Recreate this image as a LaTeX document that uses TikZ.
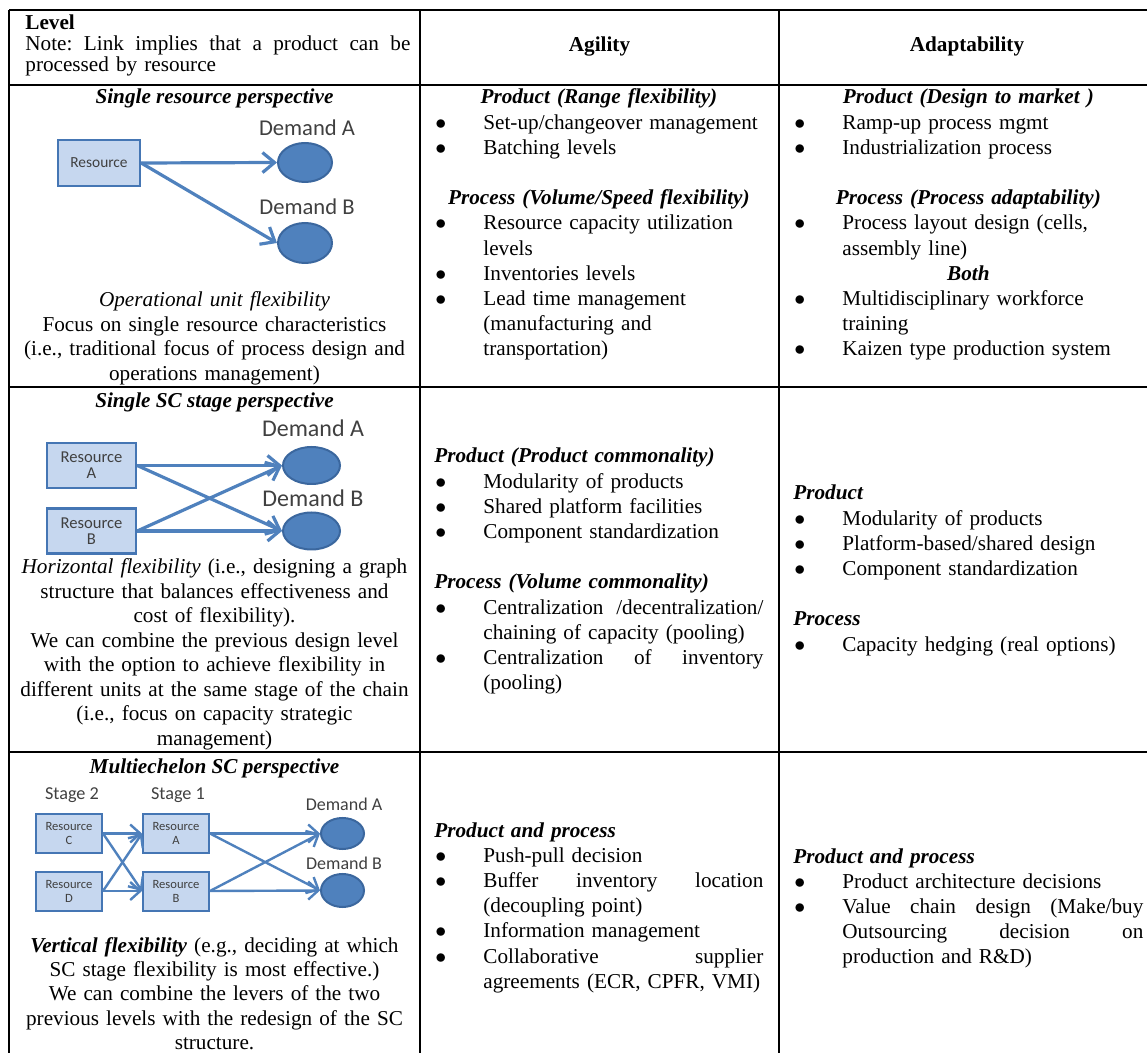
\documentclass[tikz,border=0pt]{standalone}
\usepackage{fontspec}
\setmainfont{Liberation Serif}
\newfontfamily\diagfont{Carlito}
\usetikzlibrary{arrows.meta, shapes.geometric}

\definecolor{resfill}{HTML}{C6D7EF}
\definecolor{resline}{HTML}{4576B4}
\definecolor{demfill}{HTML}{4F81BD}
\definecolor{demline}{HTML}{3B679E}
\definecolor{linkblue}{HTML}{4F81BD}
\definecolor{labgrey}{HTML}{404040}

\hyphenpenalty=10000
\newlength{\bulind}
\setlength{\bulind}{24.5pt}
\newcommand{\nl}{\hfil\break}
\newcommand{\spreadline}[2]{\makebox[#1]{#2}}
\newcommand{\bitem}[1]{\noindent\hangindent=\bulind\hangafter=1\makebox[\bulind][l]{\hspace{0.5pt}$\bullet$}#1\par}
\newcommand{\ctitle}[1]{{\centering\bfseries\itshape #1\par}}
\newcommand{\ltitle}[1]{\noindent{\bfseries\itshape #1}\par}
\newcommand{\gapline}{\vspace{\baselineskip}}

\tikzset{
  grid line/.style={line width=1.2pt},
  levelcell/.style={anchor=base, inner sep=0pt, text width=200pt, align=center, font=\fontsize{10.6}{12.25}\selectfont},
  listcell/.style={anchor=base west, inner sep=0pt, text width=#1, align=left, font=\fontsize{10.6}{12.6}\selectfont},
  head/.style={anchor=base, inner sep=0pt, font=\fontsize{10.6}{12}\selectfont\bfseries},
  resbox/.style={draw=resline, fill=resfill, line width=1.2pt, inner sep=0pt, align=center, text=labgrey},
  demand/.style={ellipse, draw=demline, fill=demfill, line width=1pt, inner sep=0pt},
  demlabel/.style={anchor=base, inner sep=0pt, text=labgrey, font=\diagfont\fontsize{12}{12}\selectfont},
  link/.style={draw=linkblue, line width=1.6pt, -{Straight Barb[length=6pt,width=10pt]}},
  link small/.style={draw=linkblue, line width=1.2pt, -{Straight Barb[length=5pt,width=9pt]}},
}

\begin{document}
\begin{tikzpicture}[x=0.5pt, y=-0.5pt]
\useasboundingbox (0,0) rectangle (1147,1053);

% table rules
\draw[grid line] (9,10) -- (1150,10);
\draw[grid line] (9,85) -- (1150,85);
\draw[grid line] (9,387) -- (1150,387);
\draw[grid line] (9,752) -- (1150,752);
\draw[grid line] (9,10) -- (9,1065);
\draw[grid line] (420,10) -- (420,1065);
\draw[grid line] (779,10) -- (779,1065);

% header row
\node[anchor=base west, inner sep=0pt, text width=192.5pt, align=left, font=\fontsize{10.6}{10.5}\selectfont] (hdlevel) at (25,30)
  {\textbf{Level}\nl\spreadline{192.5pt}{Note:\hfill Link\hfill implies\hfill that\hfill a\hfill product\hfill can\hfill be}\nl processed by resource};
\node[head] (hdagil) at (599.5,52) {Agility};
\node[head] (hdadapt) at (967,52) {Adaptability};

% row 1: single resource
\node[head, font=\fontsize{10.6}{12}\selectfont\bfseries\itshape] (ttl1) at (214.5,104) {Single resource perspective};
\node[resbox, minimum width=41pt, minimum height=23pt, font=\diagfont\fontsize{7.7}{8}\selectfont] (res1) at (99,163) {Resource};
\node[demand, minimum width=27pt, minimum height=19.5pt] (dA1) at (305,162.5) {};
\node[demand, minimum width=27pt, minimum height=20pt] (dB1) at (305,243) {};
\node[demlabel, font=\diagfont\fontsize{11.3}{12}\selectfont] (lA1) at (307,136) {Demand A};
\node[demlabel, font=\diagfont\fontsize{11.3}{12}\selectfont] (lB1) at (307,215) {Demand B};
\draw[link] (res1.east) -- (dA1.west);
\draw[link] (res1.east) -- (dB1.west);
\node[levelcell] (txt1) at (214.5,307)
  {\textit{Operational unit flexibility}\\Focus on single resource characteristics\\(i.e., traditional focus of process design and\\operations management)};

\node[listcell=164.5pt] (c12) at (434,104) {%
  \ctitle{Product (Range flexibility)}
  \bitem{Set-up/changeover management}
  \bitem{Batching levels}
  \gapline
  \ctitle{Process (Volume/Speed flexibility)}
  \bitem{Resource capacity utilization\nl levels}
  \bitem{Inventories levels}
  \bitem{Lead time management\nl (manufacturing and\nl transportation)}};

\node[listcell=175pt] (c13) at (793,104) {%
  \ctitle{Product (Design to market )}
  \bitem{Ramp-up process mgmt}
  \bitem{Industrialization process}
  \gapline
  \ctitle{Process (Process adaptability)}
  \bitem{Process layout design (cells,\nl assembly line)}
  \ctitle{Both}
  \bitem{Multidisciplinary workforce\nl training}
  \bitem{Kaizen type production system}};

% row 2: single SC stage
\node[head, font=\fontsize{10.6}{12}\selectfont\bfseries\itshape] (ttl2) at (214.5,408) {Single SC stage perspective};
\node[resbox, minimum width=44.5pt, minimum height=22.5pt, font=\diagfont\fontsize{8.3}{8}\selectfont] (resA2) at (91.5,465.5) {Resource\\A};
\node[resbox, minimum width=44.5pt, minimum height=22.5pt, font=\diagfont\fontsize{8.3}{8}\selectfont] (resB2) at (91.5,531) {Resource\\B};
\node[demand, minimum width=28.5pt, minimum height=18.5pt] (dA2) at (311.5,465.5) {};
\node[demand, minimum width=28.5pt, minimum height=18.5pt] (dB2) at (311.5,531) {};
\node[demlabel] (lA2) at (313,437) {Demand A};
\node[demlabel] (lB2) at (313,507) {Demand B};
\draw[link] (resA2.east) -- (dA2.west);
\draw[link] (resA2.east) -- (dB2.west);
\draw[link] (resB2.east) -- (dA2.west);
\draw[link] (resB2.east) -- (dB2.west);
\node[levelcell] (txt2) at (214.5,574)
  {\textit{Horizontal flexibility} (i.e., designing a graph\\structure that balances effectiveness and\\cost of flexibility).\\We can combine the previous design level\\with the option to achieve flexibility in\\different units at the same stage of the chain\\(i.e., focus on capacity strategic\\management)};

\node[listcell=164.5pt] (c22) at (434,463) {%
  \ltitle{Product (Product commonality)}
  \bitem{Modularity of products}
  \bitem{Shared platform facilities}
  \bitem{Component standardization}
  \gapline
  \ltitle{Process (Volume commonality)}
  \bitem{\spreadline{140pt}{Centralization\hfill /decentralization/}\nl chaining of capacity (pooling)}
  \bitem{\spreadline{140pt}{Centralization\hfill of\hfill inventory}\nl (pooling)}};

\node[listcell=175pt] (c23) at (793,500) {%
  \ltitle{Product}
  \bitem{Modularity of products}
  \bitem{Platform-based/shared design}
  \bitem{Component standardization}
  \gapline
  \ltitle{Process}
  \bitem{Capacity hedging (real options)}};

% row 3: multiechelon
\node[head, font=\fontsize{10.6}{12}\selectfont\bfseries\itshape] (ttl3) at (214.5,773) {Multiechelon SC perspective};
\node[demlabel, font=\diagfont\fontsize{9.1}{9}\selectfont] (stg2) at (72,799) {Stage 2};
\node[demlabel, font=\diagfont\fontsize{9.1}{9}\selectfont] (stg1) at (178,799) {Stage 1};
\node[resbox, line width=1pt, minimum width=33pt, minimum height=19.5pt, font=\diagfont\fontsize{6.3}{7}\selectfont] (resC3) at (69,833.5) {Resource\\C};
\node[resbox, line width=1pt, minimum width=33pt, minimum height=19.5pt, font=\diagfont\fontsize{6.3}{7}\selectfont] (resD3) at (69,891) {Resource\\D};
\node[resbox, line width=1pt, minimum width=33pt, minimum height=19.5pt, font=\diagfont\fontsize{6.3}{7}\selectfont] (resA3) at (176,833.5) {Resource\\A};
\node[resbox, line width=1pt, minimum width=33pt, minimum height=19.5pt, font=\diagfont\fontsize{6.3}{7}\selectfont] (resB3) at (176,891) {Resource\\B};
\node[demand, minimum width=21.5pt, minimum height=15.5pt] (dA3) at (342.5,833.5) {};
\node[demand, minimum width=21.5pt, minimum height=16.5pt] (dB3) at (342.5,890.5) {};
\node[demlabel, font=\diagfont\fontsize{9}{9}\selectfont] (lA3) at (344,810) {Demand A};
\node[demlabel, font=\diagfont\fontsize{9}{9}\selectfont] (lB3) at (344,869) {Demand B};
\draw[link small] (resC3.east) -- (resA3.west);
\draw[link small] (resC3.east) -- (resB3.west);
\draw[link small] (resD3.east) -- (resA3.west);
\draw[link small] (resD3.east) -- (resB3.west);
\draw[link small] (resA3.east) -- (dA3.west);
\draw[link small] (resA3.east) -- (dB3.west);
\draw[link small] (resB3.east) -- (dA3.west);
\draw[link small] (resB3.east) -- (dB3.west);
\node[levelcell, font=\fontsize{10.6}{12.2}\selectfont] (txt3) at (214.5,952)
  {\textbf{\textit{Vertical flexibility}} (e.g., deciding at which\\SC stage flexibility is most effective.)\\We can combine the levers of the two\\previous levels with the redesign of the SC\\structure.};

\node[listcell=164.5pt] (c32) at (434,837) {%
  \ltitle{Product and process}
  \bitem{Push-pull decision}
  \bitem{\spreadline{140pt}{Buffer\hfill inventory\hfill location}\nl (decoupling point)}
  \bitem{Information management}
  \bitem{\spreadline{140pt}{Collaborative\hfill supplier}\nl agreements (ECR, CPFR, VMI)}};

\node[listcell=175pt] (c33) at (793,863) {%
  \ltitle{Product and process}
  \bitem{Product architecture decisions}
  \bitem{\spreadline{150.5pt}{Value\hfill chain\hfill design\hfill (Make/buy}\nl\spreadline{150.5pt}{Outsourcing\hfill decision\hfill on}\nl production and R\&D)}};
\end{tikzpicture}
\end{document}
